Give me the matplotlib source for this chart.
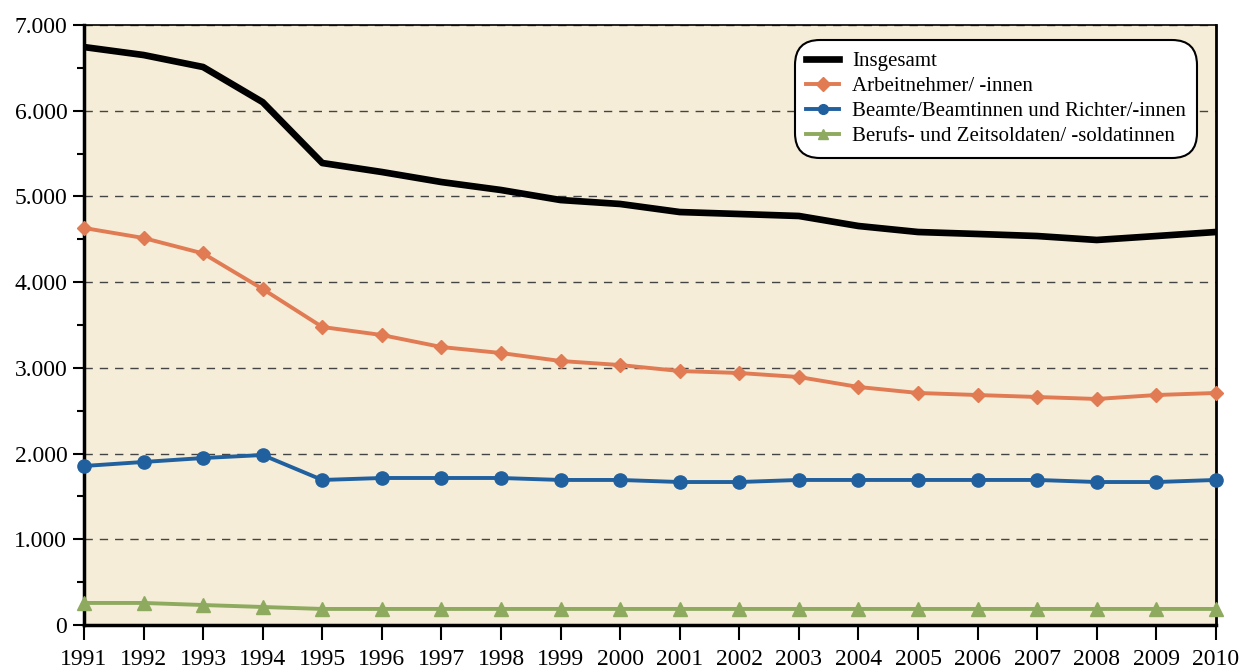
import matplotlib.pyplot as plt
from matplotlib.ticker import MultipleLocator, FuncFormatter

plt.rcParams['font.family'] = ['Liberation Serif', 'DejaVu Serif']

# values in thousands of persons
years = list(range(1991, 2011))
insgesamt = [6743, 6650, 6510, 6100, 5390, 5285, 5168, 5075, 4958, 4912,
             4818, 4795, 4772, 4655, 4585, 4562, 4538, 4492, 4538, 4585]
arbeitnehmer = [4632, 4515, 4335, 3920, 3477, 3383, 3243, 3173, 3080, 3033,
                2963, 2940, 2893, 2777, 2707, 2683, 2660, 2637, 2683, 2707]
beamte = [1855, 1902, 1948, 1983, 1692, 1715, 1715, 1715, 1692, 1692,
          1668, 1668, 1692, 1692, 1692, 1692, 1692, 1668, 1668, 1692]
soldaten = [257, 257, 233, 210, 187, 187, 187, 187, 187, 187,
            187, 187, 187, 187, 187, 187, 187, 187, 187, 187]

labels = ["Insgesamt", "Arbeitnehmer/ -innen",
          "Beamte/Beamtinnen und Richter/-innen",
          "Berufs- und Zeitsoldaten/ -soldatinnen"]

fig = plt.figure(figsize=(12.42, 6.69), dpi=100)
ax = fig.add_axes([0.0676, 0.0658, 0.9114, 0.8968])
ax.set_facecolor('#F5EDD7')

ax.plot(years, insgesamt, color='black', lw=4.8, label=labels[0], zorder=5)
ax.plot(years, arbeitnehmer, color='#E07B54', lw=2.8, marker='D', ms=7,
        label=labels[1], zorder=5, clip_on=False)
ax.plot(years, beamte, color='#21609F', lw=2.8, marker='o', ms=9.5,
        label=labels[2], zorder=5, clip_on=False)
ax.plot(years, soldaten, color='#8EAA5F', lw=2.8, marker='^', ms=10,
        label=labels[3], zorder=5, clip_on=False)

ax.set_xlim(1991, 2010)
ax.set_ylim(0, 7000)
ax.set_xticks(years)
ax.yaxis.set_major_locator(MultipleLocator(1000))
ax.yaxis.set_minor_locator(MultipleLocator(500))
ax.yaxis.set_major_formatter(FuncFormatter(lambda v, p: f"{int(v):,}".replace(',', '.')))

ax.grid(axis='y', which='major', ls=(0, (6, 5)), color='#444444', lw=1)
ax.set_axisbelow(True)

for s in ['left', 'bottom']:
    ax.spines[s].set_linewidth(2.5)
ax.spines['right'].set_linewidth(2)
ax.spines['top'].set_linewidth(1.2)

ax.tick_params(axis='y', which='major', direction='out', length=8, width=1.5,
               labelsize=17, pad=4)
ax.tick_params(axis='y', which='minor', direction='out', length=5, width=1.5)
ax.tick_params(axis='x', direction='out', length=11, width=1.5, labelsize=17, pad=6)

leg = ax.legend(loc='upper right', bbox_to_anchor=(0.989, 0.985), fontsize=15,
                frameon=True, fancybox=True, edgecolor='black', facecolor='white',
                framealpha=1, handlelength=1.6, labelspacing=0.26,
                borderpad=0.35, handletextpad=0.6)
leg.get_frame().set_linewidth(1.5)
leg.get_frame().set_boxstyle('round,pad=0.2,rounding_size=1.2')
for t in leg.get_lines():
    t.set_markersize(7)

fig.savefig('out.png', dpi=100)
